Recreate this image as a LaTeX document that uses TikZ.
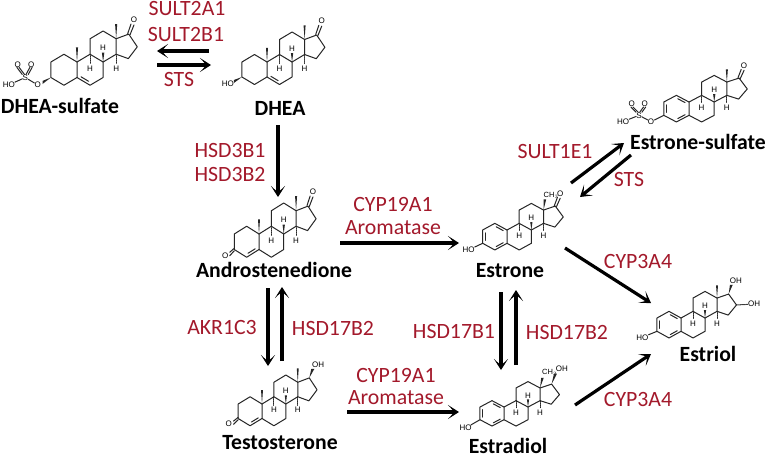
\documentclass[tikz,border=0pt]{standalone}
\usepackage{fontspec}
\setmainfont{Carlito}
\newfontfamily\atomfont{Liberation Sans}
\usetikzlibrary{arrows.meta,calc}
\definecolor{enzred}{HTML}{A3192B}
\tikzset{
  enz/.style={text=enzred,font=\fontsize{21.8}{21.8}\selectfont,inner sep=0pt},
  cpd/.style={text=black,font=\bfseries\fontsize{21.7}{21.7}\selectfont,inner sep=0pt},
  atomlabel/.style={text=black,font=\atomfont\fontsize{8}{8}\selectfont,inner sep=0pt},
  bond/.style={draw=black!85,line width=1pt,line cap=round,line join=round},
  flow/.style={draw=black,line width=3.2pt,-{Stealth[length=11pt,width=14pt,inset=6.5pt]}},
}
% #1 prefix, #2 x, #3 y, #4 bx, #5 by, #6 extras
\newcommand{\steroid}[6]{%
\begin{scope}[shift={(#2,#3)},x=#4pt,y=#5pt]
  \coordinate (c10) at (0,0); \coordinate (c5) at (0,-1);
  \coordinate (c4) at (-.87,-1.5); \coordinate (c3) at (-1.74,-1);
  \coordinate (c2) at (-1.74,0); \coordinate (c1) at (-.87,.5);
  \coordinate (c9) at (.87,.5); \coordinate (c8) at (1.74,0);
  \coordinate (c7) at (1.74,-1); \coordinate (c6) at (.87,-1.5);
  \coordinate (c11) at (.87,1.5); \coordinate (c12) at (1.74,2);
  \coordinate (c13) at (2.61,1.5); \coordinate (c14) at (2.61,.5);
  \coordinate (c15) at (3.42,.22); \coordinate (c16) at (4.02,.98);
  \coordinate (c17) at (3.45,1.8);
  \coordinate (ca) at (-.87,-.5); \coordinate (cb) at (.87,-.5);
  \draw[bond] (c10)--(c1)--(c2)--(c3)--(c4)--(c5)--cycle;
  \draw[bond] (c5)--(c6)--(c7)--(c8)--(c9)--(c10);
  \draw[bond] (c9)--(c11)--(c12)--(c13)--(c14)--(c8);
  \draw[bond] (c14)--(c15)--(c16)--(c17)--(c13);
  \fill[black!85] (c8)--(1.66,.6)--(1.82,.6)--cycle;
  \node[atomlabel] (#1-h8) at (1.74,.9) {H};
  \draw[bond,densely dotted] (c9)--(.87,-.1);
  \node[atomlabel] (#1-h9) at (.87,-.42) {H};
  \draw[bond,densely dotted] (c14)--(2.61,-.1);
  \node[atomlabel] (#1-h14) at (2.61,-.42) {H};
  #6
\end{scope}}
% #1,#2 ends, #3 ring centre
\newcommand{\dbl}[3]{\draw[bond] ($($(#1)!.14!(#2)$)!.2!(#3)$)--($($(#1)!.86!(#2)$)!.2!(#3)$);}
\newcommand{\methylA}{\fill[black!85] (c10)--(-.07,.95)--(.07,.95)--cycle;}
\newcommand{\methylB}{\fill[black!85] (c13)--(2.54,2.45)--(2.68,2.45)--cycle;}
\newcommand{\aromatic}{\dbl{c1}{c10}{ca}\dbl{c2}{c3}{ca}\dbl{c4}{c5}{ca}}
% 17-ketone, #1 = prefix
\newcommand{\ketone}[1]{%
  \node[atomlabel] (#1-o17) at (3.8,2.75) {O};
  \draw[bond] ($(c17)+(-.07,.03)$)--($(#1-o17)+(-.2,-.3)$);
  \draw[bond] ($(c17)+(.09,-.03)$)--($(#1-o17)+(0,-.36)$);}
% sulfate on C3
\newcommand{\sulfate}[1]{%
  \node[atomlabel] (#1-os) at (-2.62,-1.48) {O};
  \node[atomlabel] (#1-s) at (-3.45,-1) {S};
  \node[atomlabel] (#1-o1) at (-3.95,-.15) {O};
  \node[atomlabel] (#1-o2) at (-3.05,-.15) {O};
  \node[atomlabel] (#1-ho) at (-4.55,-1.48) {HO};
  \draw[bond] (#1-os)--(#1-s);
  \draw[bond] (#1-ho)--(#1-s);
  \draw[bond] ($(#1-s.north)+(-.2,0)$)--($(#1-o1.south)+(-.06,0)$);
  \draw[bond] ($(#1-s.north)+(-.05,0)$)--($(#1-o1.south)+(.09,0)$);
  \draw[bond] ($(#1-s.north)+(.05,0)$)--($(#1-o2.south)+(-.09,0)$);
  \draw[bond] ($(#1-s.north)+(.2,0)$)--($(#1-o2.south)+(.06,0)$);}
\begin{document}
\begin{tikzpicture}[x=1pt,y=-1pt]
\fill[white] (0,0) rectangle (768,456);
\useasboundingbox (0,0) rectangle (768,456);

% DHEA-sulfate
\steroid{ds}{77}{62}{15}{15.5}{%
  \methylA\methylB\dbl{c5}{c6}{cb}\ketone{ds}\sulfate{ds}
  \fill[black!85] (c3)--(-2.3,-1.22)--(-2.3,-1.42)--cycle;
}
% DHEA
\steroid{dh}{267}{62}{14.4}{15}{%
  \methylA\methylB\dbl{c5}{c6}{cb}\ketone{dh}
  \node[atomlabel] (dh-ho) at (-2.72,-1.44) {HO};
  \fill[black!85] (c3)--(-2.3,-1.2)--(-2.3,-1.4)--cycle;
}
% Androstenedione
\steroid{an}{259}{234}{14.2}{15.5}{%
  \methylA\methylB\dbl{c4}{c5}{ca}\ketone{an}
  \node[atomlabel] (an-o3) at (-2.38,-1.38) {O};
  \draw[bond] ($(c3)+(.0,-.08)$)--($(an-o3)+(.32,-.02)$);
  \draw[bond] ($(c3)+(.0,.08)$)--($(an-o3)+(.32,.2)$);
}
% Testosterone
\steroid{te}{262}{404}{13.7}{14.5}{%
  \methylA\methylB\dbl{c4}{c5}{ca}
  \node[atomlabel] (te-o3) at (-2.42,-1.38) {O};
  \draw[bond] ($(c3)+(.0,-.08)$)--($(te-o3)+(.34,-.02)$);
  \draw[bond] ($(c3)+(.0,.08)$)--($(te-o3)+(.34,.2)$);
  \node[atomlabel] (te-oh) at (4.1,2.68) {OH};
  \fill[black!85] (c17)--(3.6,2.42)--(3.82,2.42)--cycle;
}
% Estrone
\steroid{e1}{507}{230}{14}{13.3}{%
  \aromatic\ketone{e1}
  \node[atomlabel,font=\atomfont\fontsize{7.5}{7.5}\selectfont] (e1-me) at (3.15,2.62) {CH$_3$};
  \fill[black!85] (c13)--(2.62,2.3)--(2.8,2.3)--cycle;
  \node[atomlabel] (e1-ho) at (-2.75,-1.5) {HO};
  \draw[bond] (c3)--(e1-ho);
}
% Estrone-sulfate
\steroid{es}{689}{102}{14.5}{13.3}{%
  \aromatic\methylB\ketone{es}\sulfate{es}
  \draw[bond] (c3)--(es-os);
}
% Estradiol
\steroid{e2}{504}{407}{13.8}{12.7}{%
  \aromatic
  \node[atomlabel,font=\atomfont\fontsize{7.5}{7.5}\selectfont] (e2-me) at (3.3,2.75) {CH$_3$};
  \fill[black!85] (c13)--(2.7,2.3)--(2.88,2.3)--cycle;
  \node[atomlabel] (e2-oh) at (4.2,3) {OH};
  \fill[black!85] (c17)--(3.62,2.62)--(3.84,2.62)--cycle;
  \node[atomlabel] (e2-ho) at (-2.78,-1.65) {HO};
  \draw[bond] (c3)--(e2-ho);
}
% Estriol
\steroid{e3}{681}{318}{13.8}{13.3}{%
  \aromatic\methylB
  \node[atomlabel] (e3-oh17) at (3.98,2.82) {OH};
  \fill[black!85] (c17)--(3.55,2.5)--(3.75,2.5)--cycle;
  \node[atomlabel] (e3-oh16) at (5.3,1.05) {OH};
  \draw[bond,densely dotted] (c16)--(e3-oh16);
  \node[atomlabel] (e3-ho) at (-2.8,-1.45) {HO};
  \draw[bond] (c3)--(e3-ho);
}

% Compound names
\node[cpd] (nDS) at (60,106) {DHEA-sulfate};
\node[cpd] (nDH) at (280,108) {DHEA};
\node[cpd] (nAN) at (274,270) {Androstenedione};
\node[cpd] (nTE) at (280,443) {Testosterone};
\node[cpd] (nE1) at (510,271) {Estrone};
\node[cpd] (nES) at (698,142) {Estrone-sulfate};
\node[cpd] (nE2) at (508,445.5) {Estradiol};
\node[cpd] (nE3) at (708,354) {Estriol};

% Enzymes
\node[enz] (z1) at (187,9) {SULT2A1};
\node[enz] (z2) at (186,35) {SULT2B1};
\node[enz] (z3) at (179,79) {STS};
\node[enz] (z4) at (230,150) {HSD3B1};
\node[enz] (z5) at (230,174) {HSD3B2};
\node[enz] (z6) at (393,204) {CYP19A1};
\node[enz] (z7) at (393,228) {Aromatase};
\node[enz] (z8) at (555,152) {SULT1E1};
\node[enz] (z9) at (629,179) {STS};
\node[enz] (z10) at (638,261) {CYP3A4};
\node[enz] (z11) at (638,399) {CYP3A4};
\node[enz] (z12) at (222,327) {AKR1C3};
\node[enz] (z13) at (333,328) {HSD17B2};
\node[enz] (z14) at (454,331) {HSD17B1};
\node[enz] (z15) at (567,332) {HSD17B2};
\node[enz] (z16) at (396,375) {CYP19A1};
\node[enz] (z17) at (396,398) {Aromatase};

% Connector ends
\coordinate (a1s) at (209,51);  \coordinate (a1e) at (157,51);
\coordinate (a2s) at (157,65);  \coordinate (a2e) at (211,65);
\coordinate (a3s) at (278,125); \coordinate (a3e) at (278,197);
\coordinate (a4s) at (340,243); \coordinate (a4e) at (459,243);
\coordinate (a5s) at (268,288); \coordinate (a5e) at (268,366);
\coordinate (a6s) at (282,361); \coordinate (a6e) at (282,287);
\coordinate (a7s) at (347,412); \coordinate (a7e) at (459,412);
\coordinate (a8s) at (501,292); \coordinate (a8e) at (501,370);
\coordinate (a9s) at (516,365); \coordinate (a9e) at (516,290);
\coordinate (a10s) at (571,183); \coordinate (a10e) at (624,143);
\coordinate (a11s) at (631,155); \coordinate (a11e) at (580,197);
\coordinate (a12s) at (565,248); \coordinate (a12e) at (651,303);
\coordinate (a13s) at (575,405); \coordinate (a13e) at (651,354);

\foreach \i in {1,...,13} {\draw[flow] (a\i s)--(a\i e);}
\end{tikzpicture}
\end{document}
